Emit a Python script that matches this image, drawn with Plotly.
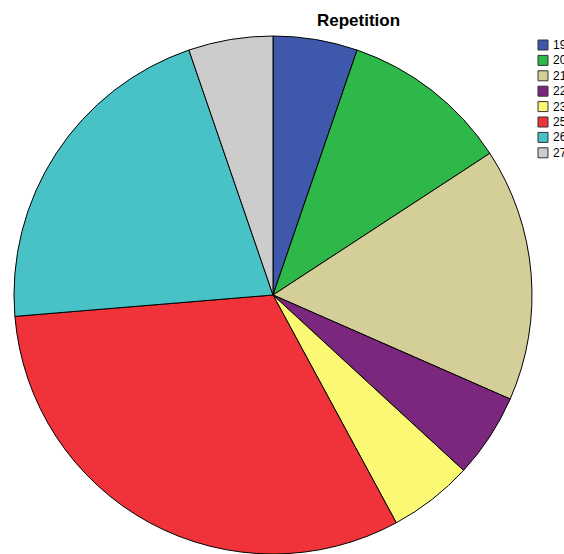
import plotly.graph_objects as go

# Repetition counts per value
labels = ["19", "20", "21", "22", "23", "25", "26", "27"]
counts = [1, 2, 3, 1, 1, 6, 4, 1]
colors = ["#3e58ac", "#2fb84a", "#d4cf98", "#7b277e", "#fbf874", "#f0323a", "#48c2c6", "#cccccc"]

W, H = 564, 554

fig = go.Figure(go.Pie(
    labels=labels,
    values=counts,
    sort=False,
    direction="clockwise",
    rotation=0,
    textinfo="none",
    hoverinfo="label+value+percent",
    marker=dict(colors=colors, line=dict(color="#000000", width=1)),
    domain=dict(x=[13 / W, 533 / W], y=[0, (H - 36) / H]),
    showlegend=False,
))

# Hand-drawn compact legend on the right
shapes = []
annotations = []
top0, step, sz = 40, 15.4, 10
for i, (lab, col) in enumerate(zip(labels, colors)):
    y0 = top0 + i * step
    shapes.append(dict(
        type="rect", xref="paper", yref="paper",
        x0=538 / W, x1=(538 + sz) / W,
        y0=1 - (y0 + sz) / H, y1=1 - y0 / H,
        fillcolor=col, line=dict(color="#333333", width=1),
    ))
    annotations.append(dict(
        text=lab, xref="paper", yref="paper",
        x=551 / W, y=1 - (y0 + sz / 2) / H,
        xanchor="left", yanchor="middle", showarrow=False,
        font=dict(family="Liberation Sans, Arial", size=12, color="#000000"),
    ))

annotations.append(dict(
    text="<b>Repetition</b>", xref="paper", yref="paper",
    x=359 / W, y=1 - 21 / H, xanchor="center", yanchor="middle",
    showarrow=False,
    font=dict(family="Liberation Sans, Arial", size=17, color="#000000"),
))

fig.update_layout(
    width=W, height=H,
    margin=dict(l=0, r=0, t=0, b=0),
    paper_bgcolor="#ffffff",
    plot_bgcolor="#ffffff",
    shapes=shapes,
    annotations=annotations,
)

fig.write_html("out.html")
